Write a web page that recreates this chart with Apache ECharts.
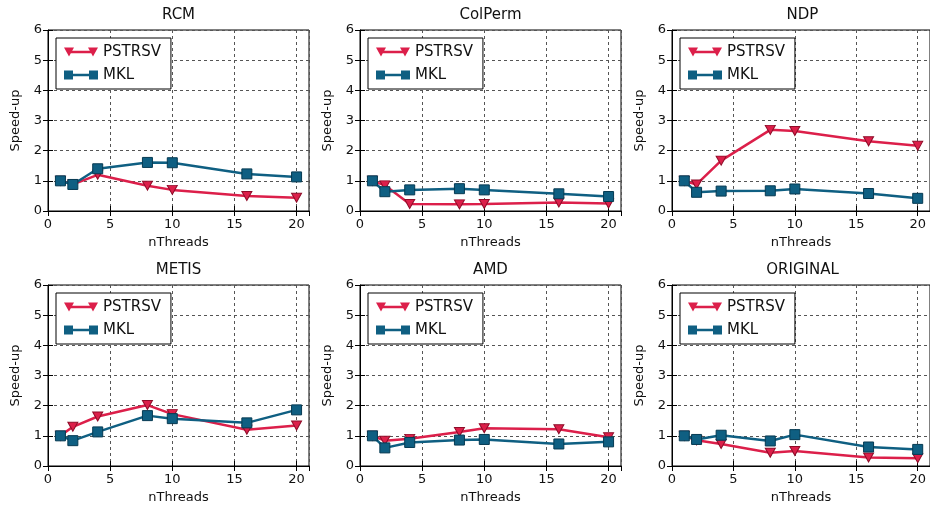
<!DOCTYPE html>
<html>
<head>
<meta charset="utf-8">
<script src="https://cdn.jsdelivr.net/npm/echarts@6/dist/echarts.min.js"></script>
<style>html,body{margin:0;padding:0;background:#fff;}#chart{width:930px;height:512px;}</style>
</head>
<body>
<div id="chart"></div>
<script>
const threads = [1, 2, 4, 8, 10, 16, 20];
const panelTitles = ['RCM', 'ColPerm', 'NDP', 'METIS', 'AMD', 'ORIGINAL'];
const seriesNames = ['PSTRSV', 'MKL'];
const yTicks = [0, 1, 2, 3, 4, 5, 6];
const xTicks = [0, 5, 10, 15, 20];

const pstrsvRCM      = [1.0, 0.88, 1.20, 0.84, 0.70, 0.50, 0.44];
const mklRCM         = [1.0, 0.88, 1.40, 1.61, 1.60, 1.23, 1.13];
const pstrsvColPerm  = [1.0, 0.85, 0.23, 0.22, 0.23, 0.28, 0.25];
const mklColPerm     = [1.0, 0.64, 0.70, 0.74, 0.70, 0.57, 0.48];
const pstrsvNDP      = [1.0, 0.88, 1.67, 2.69, 2.65, 2.31, 2.16];
const mklNDP         = [1.0, 0.62, 0.66, 0.67, 0.73, 0.58, 0.42];
const pstrsvMETIS    = [1.0, 1.30, 1.64, 2.02, 1.72, 1.20, 1.34];
const mklMETIS       = [1.0, 0.84, 1.13, 1.67, 1.57, 1.43, 1.86];
const pstrsvAMD      = [1.0, 0.84, 0.90, 1.13, 1.25, 1.22, 0.95];
const mklAMD         = [1.0, 0.60, 0.78, 0.86, 0.88, 0.73, 0.80];
const pstrsvORIGINAL = [1.0, 0.85, 0.73, 0.44, 0.50, 0.28, 0.26];
const mklORIGINAL    = [1.0, 0.88, 1.02, 0.83, 1.04, 0.63, 0.55];

const pstrsvAll = [pstrsvRCM, pstrsvColPerm, pstrsvNDP, pstrsvMETIS, pstrsvAMD, pstrsvORIGINAL];
const mklAll = [mklRCM, mklColPerm, mklNDP, mklMETIS, mklAMD, mklORIGINAL];

const FONT = 'DejaVu Sans';
const RED = '#dc1f4a', RED_EDGE = '#8e0c28';
const BLUE = '#0f5f82', BLUE_EDGE = '#063a52';
const gridLefts = [48, 360, 672];
const gridTops = [30, 285];
const GW = 261, GH = 181;

const triIcon = 'path://M0 0L10 0L5 9Z M24 0L34 0L29 9Z M5 3.3L29 3.3L29 5.7L5 5.7Z';
const sqIcon = 'path://M0 0L9 0L9 9L0 9Z M25 0L34 0L34 9L25 9Z M5 3.3L29 3.3L29 5.7L5 5.7Z';

const grid = [], xAxis = [], yAxis = [], series = [], title = [], legend = [];
for (let p = 0; p < 6; p++) {
  const col = p % 3, row = Math.floor(p / 3);
  const L = gridLefts[col], T = gridTops[row];
  grid.push({left: L, top: T, width: GW, height: GH, show: true, borderColor: '#000', borderWidth: 1, backgroundColor: '#fff'});
  title.push({text: panelTitles[p], left: L + GW / 2, top: T - 22, textAlign: 'center', padding: 0,
    textStyle: {fontFamily: FONT, fontSize: 15, fontWeight: 'normal', color: '#111'}});
  legend.push({
    data: [{name: seriesNames[0], icon: triIcon}, {name: seriesNames[1], icon: sqIcon}],
    orient: 'vertical', left: L + 8, top: T + 8, padding: [6, 10, 6, 8],
    itemWidth: 34, itemHeight: 10, itemGap: 7, itemTextGap: 10,
    backgroundColor: '#fff', borderColor: '#000', borderWidth: 1, borderRadius: 0,
    itemStyle: {borderWidth: 0},
    textStyle: {fontFamily: FONT, fontSize: 15, color: '#111', lineHeight: 16},
    selectedMode: false
  });
  const ax = {
    type: 'value', gridIndex: p, min: 0, max: 21, interval: 5,
    axisLine: {show: true, lineStyle: {color: '#000', width: 1}},
    axisTick: {show: true, inside: true, length: 5, lineStyle: {color: '#000'}},
    splitLine: {show: true, lineStyle: {color: '#555', width: 1, type: [3, 3]}},
    axisLabel: {show: true, showMaxLabel: false, margin: 7, fontFamily: FONT, fontSize: 13, color: '#111',
      formatter: v => xTicks.includes(v) ? String(v) : ''},
    name: 'nThreads', nameLocation: 'middle', nameGap: 25,
    nameTextStyle: {fontFamily: FONT, fontSize: 13, color: '#111'}
  };
  xAxis.push(ax);
  xAxis.push({type: 'value', gridIndex: p, position: 'top', min: 0, max: 21, interval: 5,
    axisLine: {show: false}, axisLabel: {show: false}, splitLine: {show: false},
    axisTick: {show: true, inside: true, length: 5, lineStyle: {color: '#000'}}});
  yAxis.push({
    type: 'value', gridIndex: p, min: 0, max: 6, interval: 1,
    axisLine: {show: true, lineStyle: {color: '#000', width: 1}},
    axisTick: {show: true, inside: true, length: 5, lineStyle: {color: '#000'}},
    splitLine: {show: true, lineStyle: {color: '#555', width: 1, type: [3, 3]}},
    axisLabel: {show: true, margin: 6, fontFamily: FONT, fontSize: 13, color: '#111',
      formatter: v => yTicks.includes(v) ? String(v) : ''},
    name: 'Speed-up', nameLocation: 'middle', nameGap: 26,
    nameTextStyle: {fontFamily: FONT, fontSize: 13, color: '#111'}
  });
  yAxis.push({type: 'value', gridIndex: p, position: 'right', min: 0, max: 6, interval: 1,
    axisLine: {show: false}, axisLabel: {show: false}, splitLine: {show: false},
    axisTick: {show: true, inside: true, length: 5, lineStyle: {color: '#000'}}});

  series.push({
    name: seriesNames[0], type: 'line', xAxisIndex: 2 * p, yAxisIndex: 2 * p,
    data: threads.map((t, i) => [t, pstrsvAll[p][i]]),
    symbol: 'triangle', symbolRotate: 180, symbolSize: [10, 9],
    lineStyle: {color: RED, width: 2.5},
    itemStyle: {color: RED, borderColor: RED_EDGE, borderWidth: 1},
    emphasis: {disabled: true}, z: 2
  });
  series.push({
    name: seriesNames[1], type: 'line', xAxisIndex: 2 * p, yAxisIndex: 2 * p,
    data: threads.map((t, i) => [t, mklAll[p][i]]),
    symbol: 'rect', symbolSize: 10,
    lineStyle: {color: BLUE, width: 2.5},
    itemStyle: {color: BLUE, borderColor: BLUE_EDGE, borderWidth: 1},
    emphasis: {disabled: true}, z: 3
  });
}

const chart = echarts.init(document.getElementById('chart'), null, {renderer: 'canvas'});
chart.setOption({animation: false, backgroundColor: '#fff', title, legend, grid, xAxis, yAxis, series, tooltip: {show: false}});
</script>
</body>
</html>
